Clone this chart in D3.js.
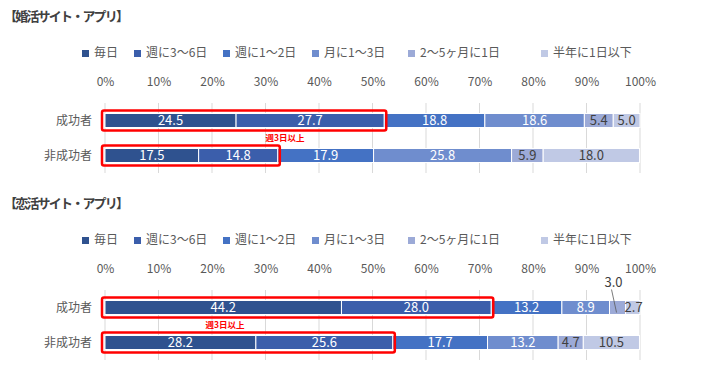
<!DOCTYPE html>
<html>
<head>
<meta charset="utf-8">
<script src="https://cdn.jsdelivr.net/npm/d3@7"></script>
<style>
  body { margin: 0; background: #fff; }
  svg { font-family: "Noto Sans CJK JP", "Noto Sans", sans-serif; }
</style>
</head>
<body>
<svg id="chart" width="707" height="365"></svg>
<script>
const seriesNames = ['毎日', '週に3～6日', '週に1～2日', '月に1～3日', '2～5ヶ月に1日', '半年に1日以下'];
const groups = ['成功者', '非成功者'];
const ticks = [0, 10, 20, 30, 40, 50, 60, 70, 80, 90, 100];

const konkatsuValues = [
  [24.5, 27.7, 18.8, 18.6, 5.4, 5.0],
  [17.5, 14.8, 17.9, 25.8, 5.9, 18.0]
];
const renkatsuValues = [
  [44.2, 28.0, 13.2, 8.9, 3.0, 2.7],
  [28.2, 25.6, 17.7, 13.2, 4.7, 10.5]
];

const colors = ['#2f528f', '#3b5eab', '#4472c4', '#6f8dce', '#9caad7', '#c0c9e5'];
const darkLabel = [false, false, false, false, true, true];

const svg = d3.select('#chart');
const x = d3.scaleLinear().domain([0, 100]).range([105, 640]);

const legendX = [82, 134, 223, 312, 408, 541];

function drawPanel(title, values, top, noteX) {
  const g = svg.append('g').attr('transform', 'translate(0,' + top + ')');

  g.append('text')
    .attr('x', 4).attr('y', 21)
    .attr('font-size', 13).attr('font-weight', 'bold')
    .attr('letter-spacing', -1.8)
    .attr('fill', '#404040')
    .text(title);

  // legend
  const lg = g.selectAll('.leg').data(seriesNames).enter().append('g')
    .attr('transform', (d, i) => 'translate(' + legendX[i] + ',0)');
  lg.append('rect').attr('x', 0).attr('y', 50).attr('width', 7).attr('height', 7)
    .attr('fill', (d, i) => colors[i]);
  lg.append('text').attr('x', 12).attr('y', 57)
    .attr('font-size', 12).attr('fill', '#595959')
    .text(d => d);

  const y = d3.scaleBand().domain(groups).range([103, 173]).paddingInner(0.6).paddingOuter(0.3);

  // gridlines
  g.selectAll('.grid').data(ticks).enter().append('line')
    .attr('x1', d => x(d)).attr('x2', d => x(d))
    .attr('y1', 103).attr('y2', 173)
    .attr('stroke', '#d9d9d9').attr('stroke-width', 1);

  // top tick labels
  const axis = d3.axisTop(x).tickValues(ticks).tickFormat(d => d + '%').tickSize(0).tickPadding(0);
  const ag = g.append('g').attr('transform', 'translate(0,86)').call(axis);
  ag.select('.domain').remove();
  ag.selectAll('text').attr('font-size', 12).attr('fill', '#595959')
    .attr('font-family', '"Noto Sans CJK JP", sans-serif');

  // category labels
  g.selectAll('.cat').data(groups).enter().append('text')
    .attr('x', 92).attr('y', d => y(d) + y.bandwidth() / 2 + 4)
    .attr('text-anchor', 'end').attr('font-size', 12).attr('fill', '#595959')
    .text(d => d);

  values.forEach((row, r) => {
    let acc = 0;
    const segs = row.map((v, i) => { const s = { i, v, x0: acc, x1: acc + v }; acc += v; return s; });
    const yy = y(groups[r]);
    const rg = g.append('g');
    rg.selectAll('rect').data(segs).enter().append('rect')
      .attr('x', d => x(d.x0)).attr('width', d => x(d.x1) - x(d.x0))
      .attr('y', yy).attr('height', y.bandwidth())
      .attr('fill', d => colors[d.i])
      .attr('stroke', '#fff').attr('stroke-width', 1);
    segs.forEach(d => {
      const cx = (x(d.x0) + x(d.x1)) / 2;
      const cy = yy + y.bandwidth() / 2 + 4.5;
      if (d.v < 3.5) {
        if (d.i === 4) {
          rg.append('line').attr('x1', cx - 6).attr('y1', yy - 11).attr('x2', cx - 1).attr('y2', yy + 12)
            .attr('stroke', '#595959').attr('stroke-width', 0.8);
          rg.append('text').attr('x', cx - 4).attr('y', yy - 14).attr('text-anchor', 'middle')
            .attr('font-size', 13).attr('fill', '#404040').text(d.v.toFixed(1));
        } else {
          rg.append('text').attr('x', x(d.x0) - 1).attr('y', cy).attr('text-anchor', 'start')
            .attr('font-size', 13).attr('fill', '#404040').text(d.v.toFixed(1));
        }
        return;
      }
      rg.append('text').attr('x', cx).attr('y', cy).attr('text-anchor', 'middle')
        .attr('font-size', 13).attr('fill', darkLabel[d.i] ? '#404040' : '#fff')
        .text(d.v.toFixed(1));
    });

    // red outline around 毎日 + 週に3～6日
    const end = row[0] + row[1];
    g.append('rect')
      .attr('x', x(0) - 3).attr('y', yy - 3)
      .attr('width', x(end) - x(0) + 5).attr('height', y.bandwidth() + 6)
      .attr('rx', 2).attr('fill', 'none').attr('stroke', '#ff0000').attr('stroke-width', 2.5);
  });

  // 週3日以上 label between rows
  g.append('text')
    .attr('x', noteX)
    .attr('y', (y(groups[0]) + y.bandwidth() + y(groups[1])) / 2 + 3)
    .attr('text-anchor', 'middle').attr('font-size', 8.5).attr('font-weight', 'bold')
    .attr('fill', '#ff0000').text('週3日以上');
}

drawPanel('【婚活サイト・アプリ】', konkatsuValues, 0, 285);
drawPanel('【恋活サイト・アプリ】', renkatsuValues, 187, 225);
</script>
</body>
</html>
